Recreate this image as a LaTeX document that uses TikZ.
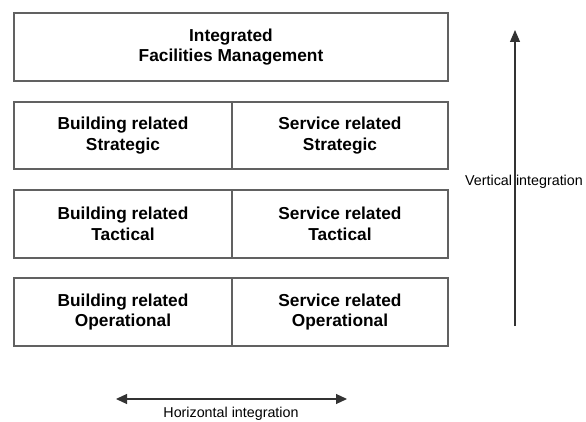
\documentclass[tikz,border=0pt]{standalone}
\usepackage{fontspec}
\setmainfont{Liberation Sans}
\usetikzlibrary{arrows.meta}
\begin{document}
\begin{tikzpicture}[x=1pt,y=-1pt,
  cell/.style={draw=black!62,line width=1.3pt,inner sep=0pt,align=center,
    font=\bfseries\fontsize{17.3}{20.5}\selectfont},
  lab/.style={inner sep=0pt,font=\fontsize{14.3}{16}\selectfont},
  arr/.style={draw=black!80,line width=1.1pt}]
\useasboundingbox (0,0) rectangle (586,422);
\node[cell,minimum width=434pt,minimum height=68pt] (top) at (231,47) {Integrated\\Facilities Management};
\node[cell,minimum width=218pt,minimum height=67pt] (bs) at (123,135.5) {Building related\\Strategic};
\node[cell,minimum width=216pt,minimum height=67pt] (ss) at (340,135.5) {Service related\\Strategic};
\node[cell,minimum width=218pt,minimum height=68pt] (bt) at (123,224) {Building related\\Tactical};
\node[cell,minimum width=216pt,minimum height=68pt] (st) at (340,224) {Service related\\Tactical};
\node[cell,minimum width=218pt,minimum height=68pt] (bo) at (123,312) {Building related\\Operational};
\node[cell,minimum width=216pt,minimum height=68pt] (so) at (340,312) {Service related\\Operational};
\coordinate (vbot) at (515,326);
\coordinate (vtop) at (515,30);
\node[lab,anchor=west] (vlab) at (465,182) {Vertical integration};
\draw[arr,-{Triangle[length=12pt,width=10pt]}] (vbot) -- (vtop);
\coordinate (hl) at (116,399);
\coordinate (hr) at (347,399);
\draw[arr,{Triangle[length=11pt,width=10pt]}-{Triangle[length=11pt,width=10pt]}] (hl) -- (hr);
\node[lab] (hlab) at (231,414) {Horizontal integration};
\end{tikzpicture}
\end{document}
